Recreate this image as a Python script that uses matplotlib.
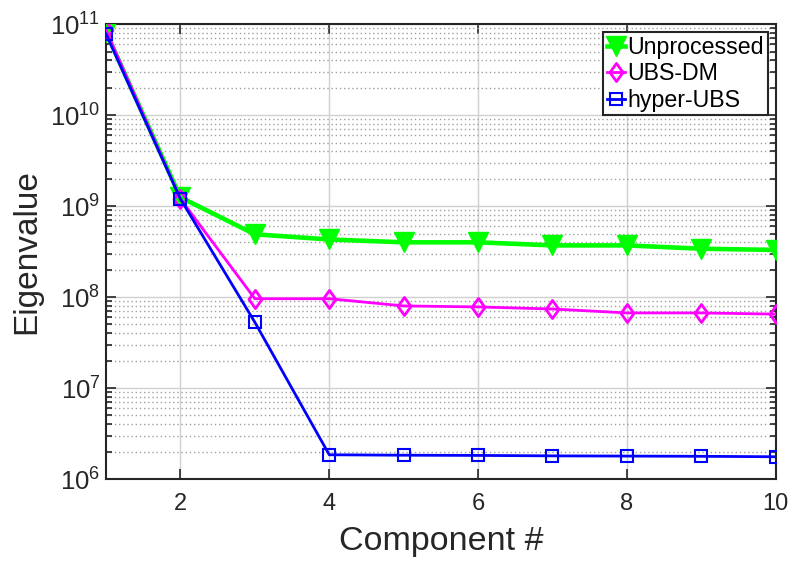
import matplotlib
matplotlib.use("Agg")
import matplotlib.pyplot as plt
from matplotlib.path import Path
from matplotlib.ticker import LogLocator, NullFormatter, FixedLocator

plt.rcParams['font.family'] = ['Liberation Sans', 'DejaVu Sans']
plt.rcParams['mathtext.fontset'] = 'custom'
plt.rcParams['mathtext.rm'] = 'Liberation Sans'
plt.rcParams['mathtext.it'] = 'Liberation Sans'

components = [1, 2, 3, 4, 5, 6, 7, 8, 9, 10]
unprocessed = [8.2e10, 1.25e9, 4.9e8, 4.3e8, 4.0e8, 4.0e8, 3.7e8, 3.7e8, 3.4e8, 3.3e8]
ubs_dm = [8.6e10, 1.2e9, 9.6e7, 9.6e7, 8.0e7, 7.8e7, 7.4e7, 6.7e7, 6.7e7, 6.5e7]
hyper_ubs = [7.8e10, 1.2e9, 5.3e7, 1.85e6, 1.83e6, 1.82e6, 1.8e6, 1.79e6, 1.78e6, 1.76e6]

x_ticks = [2, 4, 6, 8, 10]

# wide diamond marker
diamond = Path([(0, 1), (0.72, 0), (0, -1), (-0.72, 0), (0, 1)],
               [Path.MOVETO, Path.LINETO, Path.LINETO, Path.LINETO, Path.CLOSEPOLY])

fig = plt.figure(figsize=(7.94, 5.61), dpi=100)
ax = fig.add_axes([0.1335, 0.146, 0.8435, 0.811])

ax.plot(components, unprocessed, color='#00ff00', lw=3.3, marker='v',
        markersize=14, markerfacecolor='#00ff00', markeredgewidth=1,
        label='Unprocessed', zorder=3)
ax.plot(components, ubs_dm, color='#ff00ff', lw=2, marker=diamond,
        markersize=13, markerfacecolor='none', markeredgewidth=2,
        label='UBS-DM', zorder=4)
ax.plot(components, hyper_ubs, color='#0000ff', lw=2, marker='s',
        markersize=8, markerfacecolor='none', markeredgewidth=1.5,
        label='hyper-UBS', zorder=5)

ax.set_yscale('log')
ax.set_xlim(1, 10)
ax.set_ylim(1e6, 1e11)
ax.xaxis.set_major_locator(FixedLocator(x_ticks))
ax.yaxis.set_major_locator(LogLocator(base=10, numticks=20))
ax.yaxis.set_minor_locator(LogLocator(base=10, subs=range(2, 10), numticks=20))
ax.yaxis.set_minor_formatter(NullFormatter())

ax.grid(True, which='major', axis='both', color='#d0d0d0', lw=1.0, ls='-')
ax.grid(True, which='minor', axis='y', color='#a0a0a0', lw=1.0, ls=(0, (1, 2)))
ax.set_axisbelow(True)

ax.tick_params(which='both', direction='in', top=True, right=True,
               width=1.2, colors='#262626')
ax.tick_params(which='major', length=7)
ax.tick_params(which='minor', length=4)
ax.tick_params(axis='x', which='major', pad=10, labelsize=17)
ax.tick_params(axis='y', which='major', pad=4, labelsize=18.5)
for sp in ax.spines.values():
    sp.set_linewidth(1.5)
    sp.set_color('#262626')

ax.set_xlabel('Component #', fontsize=24.5, labelpad=8, color='#262626')
ax.set_ylabel('Eigenvalue', fontsize=24, labelpad=6, color='#262626')

leg = ax.legend(loc='upper right', fontsize=16.7, frameon=True, fancybox=False,
                edgecolor='#262626', framealpha=1, handlelength=0.8,
                handletextpad=0.1, borderpad=0.15, labelspacing=0.15,
                borderaxespad=0.35)
leg.get_frame().set_linewidth(1.5)

fig.savefig('out.png', dpi=100)
